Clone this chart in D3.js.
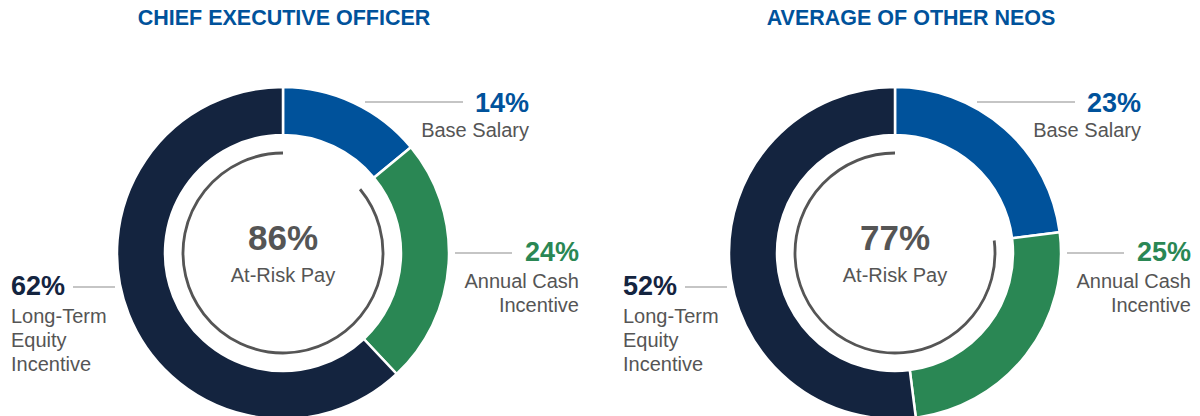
<!DOCTYPE html>
<html>
<head>
<meta charset="utf-8">
<script src="https://cdn.jsdelivr.net/npm/d3@7"></script>
<style>
  body { margin: 0; background: #fff; }
  text { font-family: "Liberation Sans", Arial, sans-serif; }
</style>
</head>
<body>
<svg id="chart" width="1200" height="416"></svg>
<script>
// data
var titles = ['CHIEF EXECUTIVE OFFICER', 'AVERAGE OF OTHER NEOS'];
var categories = ['Base Salary', 'Annual Cash Incentive', 'Long-Term Equity Incentive'];
var ceoValues = [14, 24, 62];
var neoValues = [23, 25, 52];
var atRiskValues = [86, 77];
var centerLabel = 'At-Risk Pay';

// layout
var colors = ['#00529B', '#2A8754', '#14243F'];
var textGray = '#555555';
var lineGray = '#8c8c8c';
var outerR = 166, innerR = 118, riskR = 100;
var centersX = [283, 895];
var titleX = [284, 911];
var cy = 253;

var svg = d3.select('#chart');

var pie = d3.pie().sort(null).value(function(d){ return d; });
var arc = d3.arc().innerRadius(innerR).outerRadius(outerR);
var riskArc = d3.arc().innerRadius(riskR).outerRadius(riskR);

function drawDonut(values, atRisk, k) {
  var cx = centersX[k];
  var g = svg.append('g').attr('transform', 'translate(' + cx + ',' + cy + ')');

  g.selectAll('path.slice')
    .data(pie(values))
    .enter()
    .append('path')
    .attr('class', 'slice')
    .attr('d', arc)
    .attr('fill', function(d, i){ return colors[i]; })
    .attr('stroke', '#fff')
    .attr('stroke-width', 2.5);

  // at-risk arc: covers everything but base salary
  var total = d3.sum(values);
  var start = (values[0] / total) * 2 * Math.PI;
  g.append('path')
    .attr('d', riskArc({startAngle: start, endAngle: 2 * Math.PI}))
    .attr('fill', 'none')
    .attr('stroke', '#555555')
    .attr('stroke-width', 2.8);

  g.append('text')
    .attr('x', 0).attr('y', -3)
    .attr('text-anchor', 'middle')
    .attr('font-size', 35).attr('font-weight', 'bold')
    .attr('fill', '#555555')
    .text(atRisk + '%');
  g.append('text')
    .attr('x', 0).attr('y', 29)
    .attr('text-anchor', 'middle')
    .attr('font-size', 20)
    .attr('fill', textGray)
    .text(centerLabel);

  // base salary label
  g.append('line')
    .attr('x1', 82).attr('x2', 180).attr('y1', -151).attr('y2', -151)
    .attr('stroke', lineGray).attr('stroke-width', 1.2);
  g.append('text')
    .attr('x', 246).attr('y', -141)
    .attr('text-anchor', 'end')
    .attr('font-size', 27).attr('font-weight', 'bold')
    .attr('fill', colors[0])
    .text(values[0] + '%');
  g.append('text')
    .attr('x', 246).attr('y', -116)
    .attr('text-anchor', 'end')
    .attr('font-size', 20)
    .attr('fill', textGray)
    .text(categories[0]);

  // annual cash label
  g.append('line')
    .attr('x1', 172).attr('x2', 229).attr('y1', 0).attr('y2', 0)
    .attr('stroke', lineGray).attr('stroke-width', 1.2);
  g.append('text')
    .attr('x', 296).attr('y', 8)
    .attr('text-anchor', 'end')
    .attr('font-size', 27).attr('font-weight', 'bold')
    .attr('fill', colors[1])
    .text(values[1] + '%');
  g.append('text')
    .attr('text-anchor', 'end')
    .attr('font-size', 20)
    .attr('fill', textGray)
    .selectAll('tspan')
    .data(['Annual Cash', 'Incentive'])
    .enter()
    .append('tspan')
    .attr('x', 296)
    .attr('y', function(d, i){ return 35 + i * 23.5; })
    .text(function(d){ return d; });

  // long-term label
  g.append('line')
    .attr('x1', -210).attr('x2', -168).attr('y1', 34).attr('y2', 34)
    .attr('stroke', lineGray).attr('stroke-width', 1.2);
  g.append('text')
    .attr('x', -272).attr('y', 42)
    .attr('font-size', 27).attr('font-weight', 'bold')
    .attr('fill', colors[2])
    .text(values[2] + '%');
  g.append('text')
    .attr('font-size', 20)
    .attr('fill', textGray)
    .selectAll('tspan')
    .data(['Long-Term', 'Equity', 'Incentive'])
    .enter()
    .append('tspan')
    .attr('x', -272)
    .attr('y', function(d, i){ return 70 + i * 24; })
    .text(function(d){ return d; });

  svg.append('text')
    .attr('x', titleX[k]).attr('y', 25)
    .attr('text-anchor', 'middle')
    .attr('font-size', 21.5).attr('font-weight', 'bold')
    .attr('fill', colors[0])
    .text(titles[k]);
}

drawDonut(ceoValues, atRiskValues[0], 0);
drawDonut(neoValues, atRiskValues[1], 1);
</script>
</body>
</html>
